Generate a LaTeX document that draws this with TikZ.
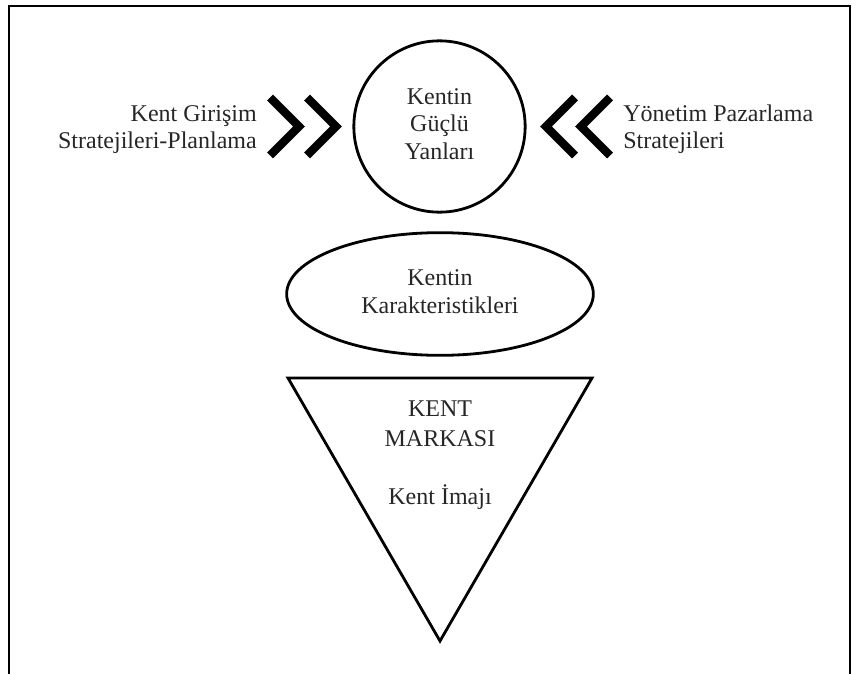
\documentclass[tikz,border=0pt]{standalone}
\usepackage{fontspec}
\setmainfont{Liberation Serif}
\usetikzlibrary{shapes.geometric}

\begin{document}
\begin{tikzpicture}[
  x=0.75pt, y=-0.75pt,
  frameline/.style={line width=1.9pt, black, line cap=butt},
  outline/.style={draw=black, line width=2.1pt},
  chevron/.style={line width=6.2pt, black, line join=miter, line cap=butt},
  lbl/.style={inner sep=0pt, text=black!85, font=\fontsize{18pt}{20.7pt}\selectfont},
]
\useasboundingbox (0,0) rectangle (858,674);

% open frame: top, left and right sides
\draw[frameline] (9,674) -- (9,6) -- (850,6) -- (850,674);

% central shapes
\node[outline, circle, minimum size=128.5pt, inner sep=0pt] (strong) at (439.5,126.5) {};
\node[outline, ellipse, minimum width=230pt, minimum height=92pt, inner sep=0pt] (traits) at (440,294) {};
\coordinate (triL) at (288,378);
\coordinate (triR) at (592,378);
\coordinate (triB) at (440,641);
\draw[outline, line join=miter] (triL) -- (triR) -- (triB) -- cycle;

% texts inside the shapes (anchored at the baseline of the last line)
\node[lbl, align=center, anchor=base] (strongtxt) at (439.5,159.5) {Kentin\\Güçlü\\Yanları};
\node[lbl, align=center, anchor=base] (traitstxt) at (440,313) {Kentin\\Karakteristikleri};
\node[lbl, align=center, anchor=base] (brandtxt) at (440,504) {KENT\\[1.8pt]MARKASI\\[22.8pt]Kent İmajı};

% side labels
\node[lbl, align=right, anchor=base east] (leftlbl) at (257,149) {Kent Girişim\\Stratejileri-Planlama};
\node[lbl, align=left, anchor=base west] (rightlbl) at (623,149) {Yönetim Pazarlama\\Stratejileri};

% double chevrons pointing at the circle
\draw[chevron] (270,97.5) -- (299,126.5) -- (270,155.5);
\draw[chevron] (307,97.5) -- (336,126.5) -- (307,155.5);
\draw[chevron] (575,97.5) -- (546,126.5) -- (575,155.5);
\draw[chevron] (610,97.5) -- (581,126.5) -- (610,155.5);
\end{tikzpicture}
\end{document}
